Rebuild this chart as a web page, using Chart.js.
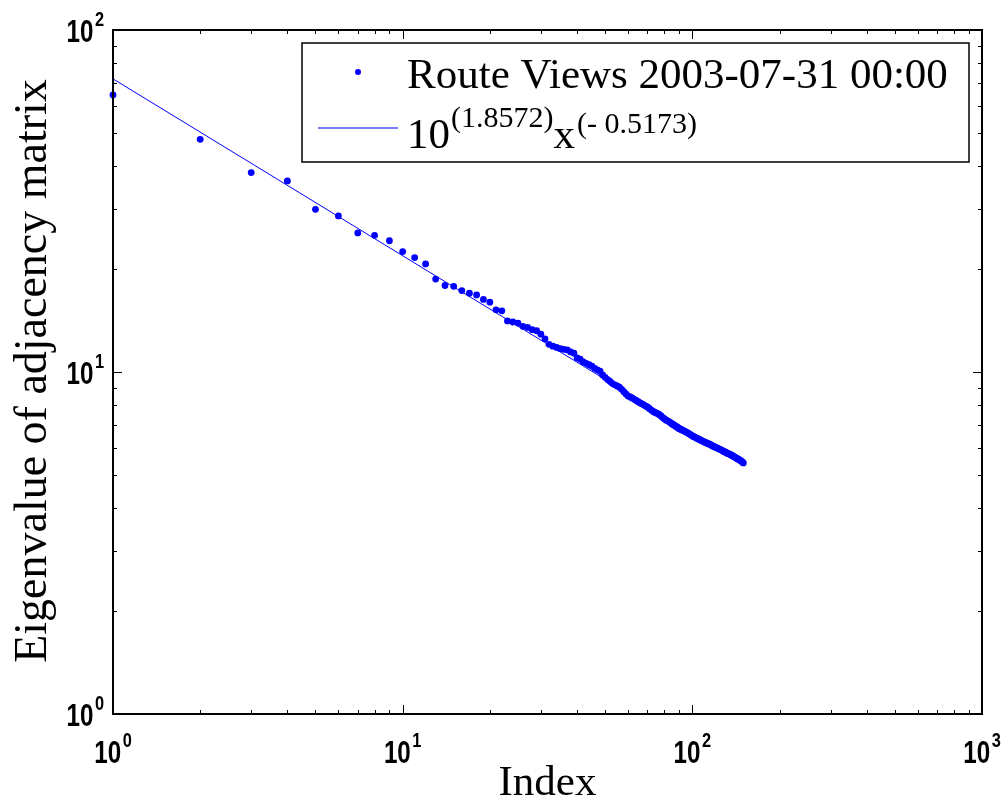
<!DOCTYPE html>
<html>
<head>
<meta charset="utf-8">
<title>Eigenvalues of adjacency matrix</title>
<script src="https://cdn.jsdelivr.net/npm/chart.js@4.4.0/dist/chart.umd.min.js"></script>
<style>
  html, body { margin: 0; padding: 0; background: #fff; }
  #wrap { width: 1003px; height: 800px; }
</style>
</head>
<body>
<div id="wrap"><canvas id="chart" width="1003" height="800"></canvas></div>
<script>
// eigenvalues, sorted, index 1..150
const eigenvalues = [
    64.6, 47.9, 38.3, 36.2, 29.9, 28.6, 25.5, 25.1, 24.2, 22.5,
    21.6, 20.7, 18.7, 17.9, 17.8, 17.3, 17.0, 16.8, 16.3, 16.0,
    15.2, 15.1, 14.1, 14.0, 13.9, 13.6, 13.5, 13.3, 13.2, 12.9,
    12.5, 12.05, 11.9, 11.8, 11.7, 11.65, 11.6, 11.45, 11.35, 11.0,
    10.9, 10.7, 10.6, 10.5, 10.4, 10.25, 10.15, 10.05, 9.8, 9.65,
    9.5, 9.38, 9.25, 9.17, 9.1, 9.03, 8.9, 8.76, 8.63, 8.51,
    8.45, 8.40, 8.32, 8.26, 8.19, 8.12, 8.07, 8.01, 7.95, 7.90,
    7.82, 7.75, 7.68, 7.63, 7.59, 7.55, 7.50, 7.44, 7.36, 7.30,
    7.24, 7.20, 7.16, 7.11, 7.05, 7.01, 6.96, 6.92, 6.87, 6.82,
    6.80, 6.77, 6.74, 6.71, 6.68, 6.65, 6.61, 6.58, 6.54, 6.50,
    6.48, 6.45, 6.42, 6.39, 6.37, 6.34, 6.32, 6.29, 6.27, 6.24,
    6.22, 6.20, 6.18, 6.16, 6.14, 6.12, 6.09, 6.07, 6.05, 6.03,
    6.01, 5.99, 5.97, 5.95, 5.93, 5.91, 5.89, 5.87, 5.85, 5.83,
    5.81, 5.79, 5.77, 5.76, 5.74, 5.72, 5.70, 5.68, 5.66, 5.64,
    5.62, 5.60, 5.58, 5.56, 5.54, 5.52, 5.50, 5.48, 5.45, 5.42
];

// power law fit end points: 10^1.8572 * x^-0.5173
const fitX = [1, 150];
const fitY = [71.96, 5.39];

const xDecades = [1, 10, 100, 1000];
const xTickExp = ['0', '1', '2', '3'];
const yDecades = [1, 10, 100];
const yTickExp = ['0', '1', '2'];

const seriesLabel = 'Route Views 2003-07-31 00:00';
const fitLabel = ['10', '(1.8572)', 'x', '(- 0.5173)'];
const xTitle = 'Index';
const yTitle = 'Eigenvalue of adjacency matrix';

const BLUE = '#0000ff';
const SERIF = '"Liberation Serif", "Times New Roman", serif';
const SANS = '"Liberation Sans", Arial, sans-serif';
const SQUEEZE = 0.78; // tick label font is a narrow helvetica

function drawTicks(ctx, area, scale, values, horizontal, len) {
    values.forEach(v => {
        const p = Math.round(scale.getPixelForValue(v)) + 0.5;
        ctx.beginPath();
        if (horizontal) {
            ctx.moveTo(p, area.bottom); ctx.lineTo(p, area.bottom - len);
            ctx.moveTo(p, area.top); ctx.lineTo(p, area.top + len);
        } else {
            ctx.moveTo(area.left, p); ctx.lineTo(area.left + len, p);
            ctx.moveTo(area.right, p); ctx.lineTo(area.right - len, p);
        }
        ctx.stroke();
    });
}

function minorValues(decades) {
    const out = [];
    for (let d = 0; d < decades.length - 1; d++) {
        for (let m = 2; m <= 9; m++) out.push(m * decades[d]);
    }
    return out;
}

// "10" plus exponent, squeezed; x0 is the left edge
function drawPower(ctx, exp, x0, y) {
    ctx.save();
    ctx.translate(x0, y);
    ctx.scale(SQUEEZE, 1);
    ctx.textAlign = 'left';
    ctx.font = 'bold 31px ' + SANS;
    ctx.fillText('10', 0, 0);
    const w = ctx.measureText('10').width;
    ctx.font = 'bold 21px ' + SANS;
    ctx.fillText(exp, w + 2, -16);
    ctx.restore();
}

function powerWidth(ctx, exp) {
    ctx.font = 'bold 31px ' + SANS;
    const w1 = ctx.measureText('10').width;
    ctx.font = 'bold 21px ' + SANS;
    const w2 = ctx.measureText(exp).width;
    return (w1 + w2 + 2) * SQUEEZE;
}

const frameAndLabels = {
    id: 'frameAndLabels',
    afterDraw(chart) {
        const ctx = chart.ctx;
        const area = chart.chartArea;
        const xs = chart.scales.x;
        const ys = chart.scales.y;
        ctx.save();

        // box
        ctx.strokeStyle = '#000';
        ctx.lineWidth = 2;
        ctx.strokeRect(area.left, area.top, area.right - area.left, area.bottom - area.top);

        // ticks pointing inward
        ctx.lineWidth = 1;
        drawTicks(ctx, area, xs, xDecades, true, 9);
        drawTicks(ctx, area, xs, minorValues(xDecades), true, 4);
        drawTicks(ctx, area, ys, yDecades, false, 9);
        drawTicks(ctx, area, ys, minorValues(yDecades), false, 4);

        // tick labels
        ctx.fillStyle = '#000';
        ctx.textBaseline = 'alphabetic';
        xDecades.forEach((v, i) => {
            const p = xs.getPixelForValue(v);
            const w = powerWidth(ctx, xTickExp[i]);
            drawPower(ctx, xTickExp[i], p - w / 2, 763);
        });
        yDecades.forEach((v, i) => {
            const p = ys.getPixelForValue(v);
            const w = powerWidth(ctx, yTickExp[i]);
            drawPower(ctx, yTickExp[i], 104 - w, p + 12);
        });

        // axis titles
        ctx.font = '43px ' + SERIF;
        ctx.textAlign = 'center';
        ctx.fillText(xTitle, (area.left + area.right) / 2, 795);
        ctx.save();
        ctx.translate(46, 371);
        ctx.rotate(-Math.PI / 2);
        ctx.font = '46px ' + SERIF;
        ctx.fillText(yTitle, 0, 0);
        ctx.restore();

        // legend
        const lx = 302, ly = 43, lw = 667, lh = 119;
        ctx.fillStyle = '#fff';
        ctx.fillRect(lx, ly, lw, lh);
        ctx.strokeStyle = '#000';
        ctx.lineWidth = 1.5;
        ctx.strokeRect(lx, ly, lw, lh);

        ctx.fillStyle = BLUE;
        ctx.beginPath();
        ctx.arc(358, 72, 3, 0, Math.PI * 2);
        ctx.fill();
        ctx.strokeStyle = '#5050ff';
        ctx.lineWidth = 1.5;
        ctx.beginPath();
        ctx.moveTo(318, 128);
        ctx.lineTo(398, 128);
        ctx.stroke();

        ctx.fillStyle = '#000';
        ctx.textAlign = 'left';
        ctx.font = '43px ' + SERIF;
        ctx.fillText(seriesLabel, 407, 88);

        let tx = 407;
        ctx.fillText(fitLabel[0], tx, 148);
        tx += ctx.measureText(fitLabel[0]).width + 1;
        ctx.font = '30px ' + SERIF;
        ctx.fillText(fitLabel[1], tx, 127);
        tx += ctx.measureText(fitLabel[1]).width;
        ctx.font = '43px ' + SERIF;
        ctx.fillText(fitLabel[2], tx, 148);
        tx += ctx.measureText(fitLabel[2]).width + 2;
        ctx.font = '30px ' + SERIF;
        ctx.fillText(fitLabel[3], tx, 133);

        ctx.restore();
    }
};

const ctx = document.getElementById('chart').getContext('2d');
const myChart = new Chart(ctx, {
    type: 'scatter',
    data: {
        datasets: [{
            label: seriesLabel,
            data: eigenvalues.map((v, i) => ({ x: i + 1, y: v })),
            backgroundColor: BLUE,
            borderColor: BLUE,
            pointRadius: 3.4,
            pointBorderWidth: 0,
            clip: false,
            order: 2
        }, {
            label: 'fit',
            data: fitX.map((x, i) => ({ x: x, y: fitY[i] })),
            showLine: true,
            borderColor: BLUE,
            borderWidth: 1,
            pointRadius: 0,
            order: 1
        }]
    },
    options: {
        responsive: false,
        animation: false,
        devicePixelRatio: 1,
        layout: {
            padding: { left: 113, right: 21, top: 30, bottom: 86 }
        },
        plugins: {
            legend: { display: false },
            tooltip: { enabled: false }
        },
        scales: {
            x: { type: 'logarithmic', min: 1, max: 1000, display: false },
            y: { type: 'logarithmic', min: 1, max: 100, display: false }
        }
    },
    plugins: [frameAndLabels]
});
</script>
</body>
</html>
